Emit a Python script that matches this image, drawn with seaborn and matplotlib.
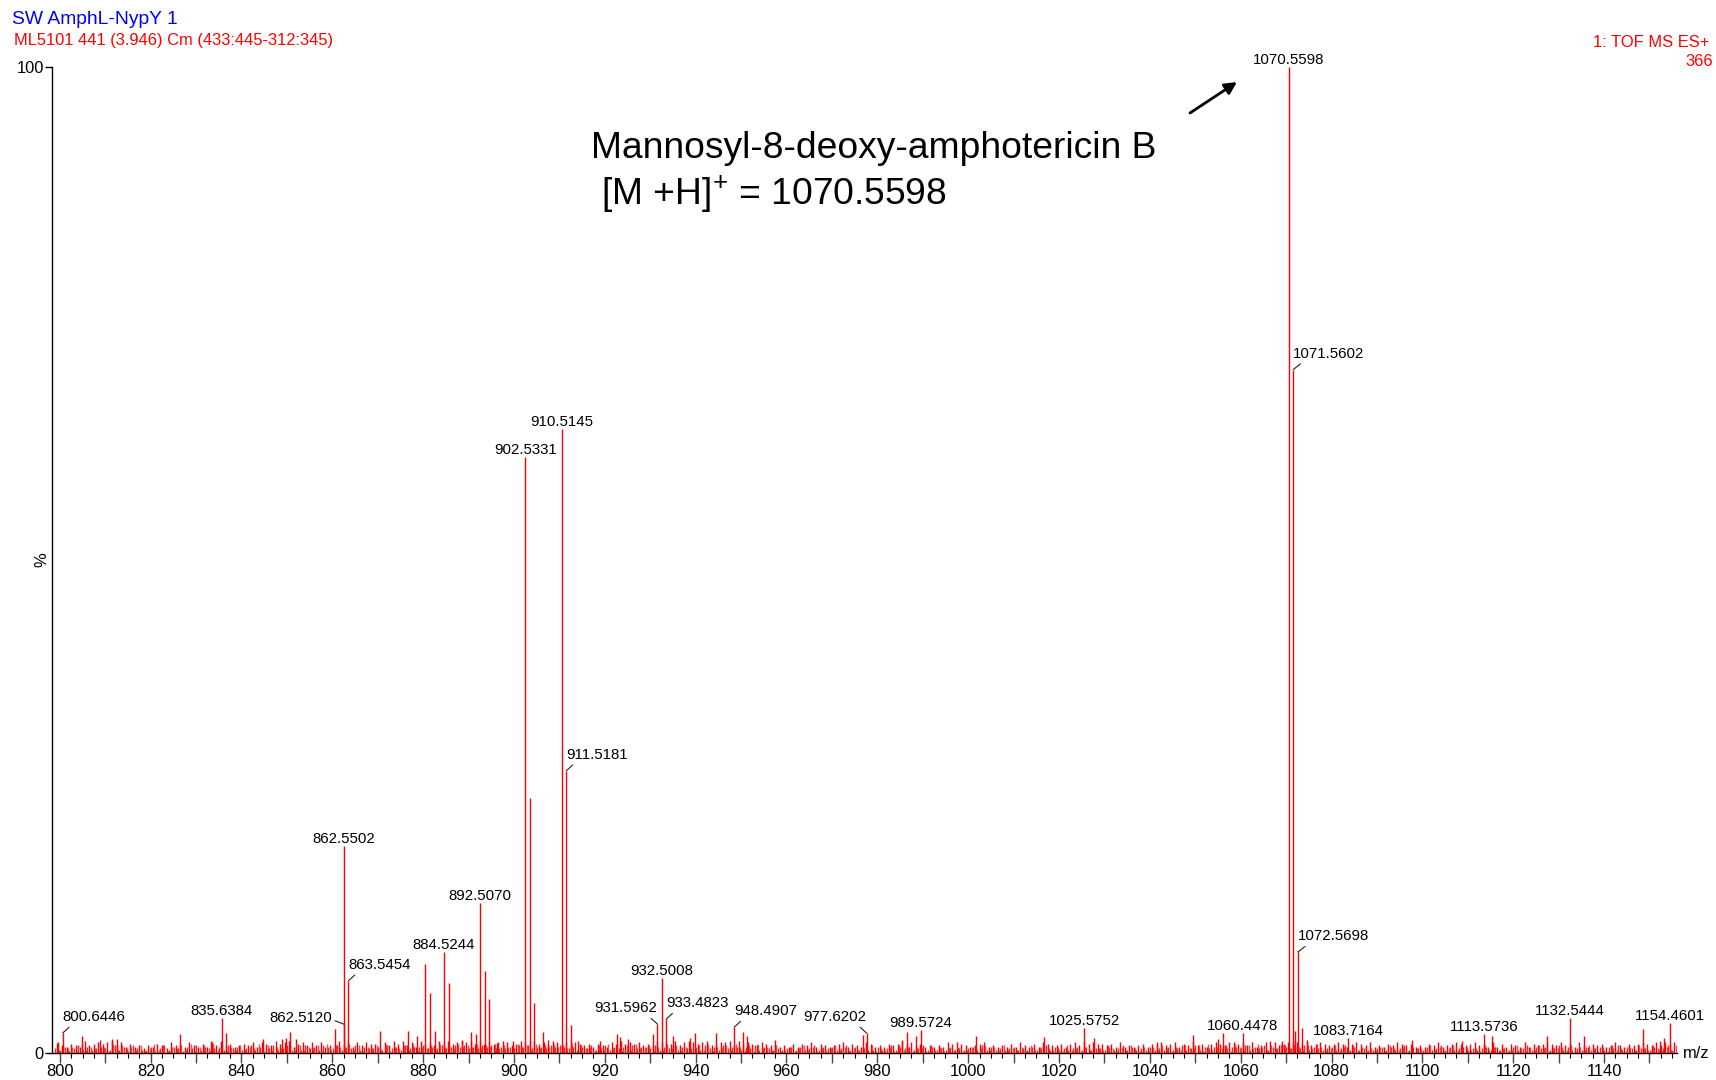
import numpy as np
import matplotlib
matplotlib.use("Agg")
import matplotlib.pyplot as plt
import seaborn as sns
from matplotlib.ticker import MultipleLocator, FuncFormatter

# --- data (m/z, relative intensity %) ---
label_mz = [800.6446, 835.6384, 862.5120, 862.5502, 863.5454, 884.5244, 892.5070,
            902.5331, 910.5145, 911.5181, 931.5962, 932.5008, 933.4823, 948.4907,
            977.6202, 989.5724, 1025.5752, 1060.4478, 1070.5598, 1071.5602,
            1072.5698, 1083.7164, 1113.5736, 1132.5444, 1154.4601]
label_pct = [2.0, 3.5, 2.9, 21.0, 7.3, 10.2, 15.2,
             60.4, 63.3, 28.6, 2.9, 7.6, 3.4, 2.6,
             2.0, 2.3, 2.5, 2.0, 100.0, 69.3,
             10.2, 1.45, 1.9, 3.5, 3.0]
label_side = ['r', 'c', 'l2', 'c', 'r', 'c', 'c',
              'c', 'c', 'r', 'l', 'c', 'r', 'r',
              'l', 'c', 'c', 'c', 'c', 'r',
              'r', 'c', 'c', 'c', 'c']

# other visible peaks without labels
spike_mz = [799.4, 804.8, 808.8, 811.4, 812.7, 826.4, 833.4, 836.7, 844.8, 849.0,
            849.7, 850.65, 852.1, 860.6, 870.4, 876.6, 878.7, 880.5, 881.6, 882.6,
            885.6, 888.5, 890.6, 891.6, 893.6, 894.6, 896.2, 899.8, 903.5, 904.5,
            906.4, 907.6, 912.5, 914.0, 918.9, 922.6, 923.4, 925.2, 930.7, 935.1,
            938.8, 939.8, 944.5, 950.5, 951.2, 957.5, 976.9, 985.5, 986.6, 988.5,
            1001.7, 1016.6, 1027.6, 1041.5, 1049.4, 1055.1, 1056.2, 1069.0, 1072.0,
            1073.6, 1074.5, 1097.7, 1108.7, 1115.4, 1127.4, 1135.5, 1148.5, 1152.4,
            1153.1]
spike_pct = [1.0, 1.7, 1.3, 1.4, 1.35, 1.9, 1.2, 2.0, 1.35, 1.35,
             1.45, 2.1, 1.35, 2.4, 2.2, 2.2, 1.7, 9.0, 6.1, 2.2,
             7.1, 1.3, 2.1, 1.9, 8.3, 5.4, 1.0, 1.2, 25.8, 5.0,
             2.1, 1.3, 2.8, 1.2, 1.2, 1.9, 1.6, 1.4, 1.85, 1.65,
             1.45, 1.95, 2.0, 2.1, 1.7, 1.3, 1.8, 1.3, 2.1, 1.7,
             1.7, 1.6, 1.45, 1.1, 1.8, 1.4, 2.0, 1.2, 2.2,
             2.5, 1.3, 1.3, 1.2, 1.7, 1.7, 1.7, 2.4, 1.2,
             1.45]

# baseline noise, one digit per nominal mass from 799 to 1155 (digit * 0.15 %)
noise_start = 799
noise_a = ("7546548567" "6785746453" "5465375647" "5464758564" "5657476586"
           "7846757574" "5686847576" "6475868574" "8675878678" "7868676787"
           "5687886768" "7678765646" "5476867675" "6587768578" "7678567785"
           "8676576564" "5464657465" "4567465476" "4546567675" "6454547676"
           "5456745454" "6475464765" "5646758676" "6564745456" "4657567465"
           "7564676577" "6757457875" "6787675676" "5676467657" "4546576564"
           "5465745676" "5675647464" "6547465676" "5756475465" "6457546567"
           "6575767")
noise_b = ("3241352423" "4325241532" "2413524314" "3524134253" "4235241352"
           "3524253425" "4352435243" "3425342534" "4534353454" "5343545343"
           "4354534435" "4543424352" "3524342534" "4352435243" "3425342534"
           "4243524323" "2342423524" "3423524232" "2423524342" "3524232423"
           "2342524232" "3423242352" "4232342423" "3242352423" "2423242352"
           "3524342534" "4352435243" "5434352432" "3423524232" "2342423524"
           "3242352423" "4232342423" "2423524342" "3524232423" "4243524323"
           "3242352")
noise_c = ("2534162435" "4162534251" "3625143526" "1453625142" "5243615243"
           "3615243516" "2543625143" "5261435261" "4352645364" "5463546354"
           "3645263546" "4536253425" "2634152634" "5142635241" "3526143526"
           "4251634251" "2413524132" "3524132415" "1324152413" "4152413241"
           "2413524152" "3241524132" "4152314253" "2531425314" "1425314253"
           "3516243516" "4253642536" "5364253642" "3524152413" "2415324153"
           "3152413524" "4231524231" "2531425314" "3425142531" "4152314253"
           "2531425")

W, H = 1716, 1080
fig = plt.figure(figsize=(W / 100, H / 100), dpi=100)
sns.set_theme(style="white")
plt.rcParams['font.family'] = ['Liberation Sans', 'DejaVu Sans']
plt.rcParams['text.color'] = 'black'
plt.rcParams['mathtext.fontset'] = 'custom'
plt.rcParams['mathtext.rm'] = 'Liberation Sans'
plt.rcParams['mathtext.it'] = 'Liberation Sans:italic'
plt.rcParams['mathtext.bf'] = 'Liberation Sans:bold'

ax = fig.add_axes([52.3 / W, 1 - 1052.7 / H, (1676.7 - 52.3) / W, (1052.7 - 67) / H])
ax.set_facecolor('white')

red = '#ff0000'
nx = noise_start + np.arange(len(noise_a))
for s, shift, a in [(noise_a, 0.5, 1.0), (noise_b, 0.05, 0.85), (noise_c, 0.78, 0.7)]:
    h = np.array([int(c) for c in s]) * 0.15
    ax.vlines(nx + shift, 0, h, colors=red, lw=1.0, alpha=a)
ax.vlines(spike_mz, 0, spike_pct, colors=red, lw=1.0)
ax.vlines(label_mz, 0, label_pct, colors=red, lw=1.0)

lab_font = dict(fontsize=10.8, color='black')
for mz, pct, side in zip(label_mz, label_pct, label_side):
    txt = f"{mz:.4f}"
    if side == 'c':
        ax.annotate(txt, xy=(mz, pct), xytext=(0, 3), textcoords='offset pixels',
                    ha='center', va='baseline', **lab_font)
    else:
        if side == 'r':
            off, ha, rel = (0, 12), 'left', (0.16, 0.0)
        elif side == 'l':
            off, ha, rel = (0, 12), 'right', (0.84, 0.0)
        else:
            off, ha, rel = (-12, 2), 'right', (1.0, 0.4)
        ax.annotate(txt, xy=(mz, pct), xytext=off, textcoords='offset pixels',
                    ha=ha, va='baseline',
                    arrowprops=dict(arrowstyle='-', color='#222222', lw=0.8,
                                    shrinkA=0, shrinkB=0, relpos=rel),
                    **lab_font)

ax.set_xlim(798.35, 1156.0)
ax.set_ylim(0, 100)
sns.despine(ax=ax, top=True, right=True)
for s in ['left', 'bottom']:
    ax.spines[s].set_color('black')
    ax.spines[s].set_linewidth(1.0)

ax.xaxis.set_major_locator(MultipleLocator(10))
ax.xaxis.set_minor_locator(MultipleLocator(2.5))
ax.xaxis.set_major_formatter(FuncFormatter(
    lambda v, p: f"{int(round(v))}" if int(round(v)) % 20 == 0 else ''))
ax.tick_params(axis='x', which='major', direction='out', length=6.9, width=1,
               color='#444444', pad=1, labelsize=11.9, labelcolor='black', bottom=True)
ax.tick_params(axis='x', which='minor', direction='out', length=3.3, width=0.8,
               color='black', bottom=True)
ax.set_yticks([0, 100])
ax.set_yticklabels(['0', '100'])
ax.tick_params(axis='y', direction='out', length=5, width=1, color='black',
               pad=1, labelsize=11.9, labelcolor='black', left=True)
ax.grid(False)

# header and axis texts
fig.text(12.5 / W, 1 - 24 / H, 'SW AmphL-NypY 1', color='#0000ff', fontsize=13.9,
         ha='left', va='baseline')
fig.text(13.5 / W, 1 - 45 / H, 'ML5101 441 (3.946) Cm (433:445-312:345)', color=red,
         fontsize=11.9, ha='left', va='baseline')
fig.text(1709 / W, 1 - 46.7 / H, '1: TOF MS ES+', color=red, fontsize=11.9,
         ha='right', va='baseline')
fig.text(1713 / W, 1 - 65.7 / H, '366', color=red, fontsize=11.9,
         ha='right', va='baseline')
fig.text(1683 / W, 1 - 1054 / H, 'm/z', fontsize=11.9, ha='left', va='center')
fig.text(41.6 / W, 1 - 560 / H, '%', fontsize=11.9, rotation=90, ha='center', va='center')

fig.text(591 / W, 1 - 158 / H, 'Mannosyl-8-deoxy-amphotericin B', fontsize=26.8,
         ha='left', va='baseline')
fig.text(601 / W, 1 - 205 / H, r'[M +H]$^{\mathregular{+}}$ = 1070.5598', fontsize=26.8,
         ha='left', va='baseline')
ax.annotate('', xy=(1237, H - 82), xycoords='figure pixels',
            xytext=(1190, H - 113), textcoords='figure pixels',
            arrowprops=dict(arrowstyle='-|>', color='black', lw=2.0,
                            mutation_scale=18, shrinkA=0, shrinkB=0))

fig.savefig('out.png', dpi=100)
